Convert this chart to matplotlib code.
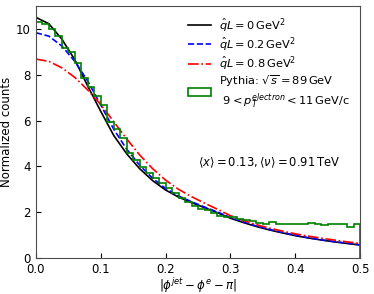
import numpy as np
import matplotlib
matplotlib.use("Agg")
import matplotlib.pyplot as plt

# curve sampling points
dphi = [0.00, 0.02, 0.04, 0.06, 0.08, 0.10, 0.12, 0.14, 0.16, 0.18, 0.20, 0.22, 0.24,
        0.26, 0.28, 0.30, 0.32, 0.34, 0.36, 0.38, 0.40, 0.42, 0.44, 0.46, 0.48, 0.50]
qL0 = [10.50, 10.22, 9.55, 8.65, 7.50, 6.40, 5.35, 4.55, 3.90, 3.38, 2.97, 2.66, 2.42,
       2.20, 1.98, 1.74, 1.55, 1.38, 1.23, 1.10, 0.98, 0.88, 0.79, 0.71, 0.64, 0.57]
qL02 = [9.83, 9.68, 9.25, 8.58, 7.72, 6.68, 5.62, 4.75, 4.05, 3.48, 3.04, 2.71, 2.46,
        2.23, 2.01, 1.77, 1.58, 1.40, 1.25, 1.12, 1.00, 0.89, 0.80, 0.72, 0.65, 0.58]
qL08 = [8.68, 8.58, 8.30, 7.88, 7.33, 6.70, 5.95, 5.20, 4.50, 3.90, 3.40, 3.00, 2.68,
        2.40, 2.13, 1.85, 1.64, 1.46, 1.31, 1.18, 1.06, 0.96, 0.87, 0.79, 0.71, 0.64]

# pythia histogram, 50 bins of width 0.01
edges = np.linspace(0, 0.5, 51)
pythia = [10.28, 10.20, 9.99, 9.69, 9.18, 9.01, 8.53, 7.87, 7.48, 7.07,
          6.68, 5.94, 5.62, 5.25, 4.57, 4.28, 3.97, 3.72, 3.48, 3.28,
          3.05, 2.85, 2.62, 2.45, 2.28, 2.13, 2.12, 1.95, 1.82, 1.80,
          1.78, 1.69, 1.66, 1.63, 1.54, 1.51, 1.59, 1.51, 1.51, 1.50,
          1.48, 1.51, 1.54, 1.48, 1.44, 1.51, 1.51, 1.51, 1.37, 1.47]

fig = plt.figure(figsize=(3.74, 2.94), dpi=100)
ax = fig.add_axes([0.096, 0.122, 0.867, 0.858])

ax.plot(dphi, qL0, color='black', lw=1.2, label=r"$\hat{q}L=0\,\mathrm{GeV}^2$")
ax.plot(dphi, qL02, color='blue', lw=1.2, ls='--', label=r"$\hat{q}L=0.2\,\mathrm{GeV}^2$")
ax.plot(dphi, qL08, color='red', lw=1.2, ls='-.', label=r"$\hat{q}L=0.8\,\mathrm{GeV}^2$")
ax.hist(edges[:-1], bins=edges, weights=pythia, histtype='step', color='green', lw=1.2,
        label="Pythia: $\\sqrt{s}=89\\,\\mathrm{GeV}$\n $9<p_T^{electron}<11\\,\\mathrm{GeV/c}$")

ax.text(0.25, 4.15, r"$\langle x\rangle=0.13, \langle\nu\rangle=0.91\,\mathrm{TeV}$",
        fontsize=8.3, va='center', ha='left')

ax.set_xlim(0, 0.5)
ax.set_ylim(0, 11)
ax.set_xticks([0.0, 0.1, 0.2, 0.3, 0.4, 0.5])
ax.set_yticks([0, 2, 4, 6, 8, 10])
ax.tick_params(direction='in', labelsize=8.5)
ax.set_xlabel(r"$|\phi^{jet}-\phi^{e}-\pi|$", fontsize=8.5, labelpad=0)
ax.set_ylabel("Normalized counts", fontsize=8.5, labelpad=2)
for s in ax.spines.values():
    s.set_color('0.3')

ax.legend(loc='upper right', frameon=False, fontsize=8.2, labelspacing=0.1,
          handletextpad=0.7)

plt.savefig("out.png", dpi=100)
